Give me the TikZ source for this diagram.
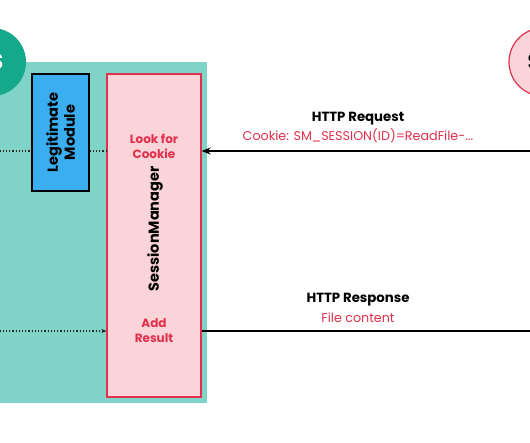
\documentclass[tikz,border=0pt]{standalone}
\usepackage{fontspec}
\setmainfont{Poppins}
\usetikzlibrary{arrows.meta}
\definecolor{hostteal}{HTML}{7FD3C7}
\definecolor{clientgreen}{HTML}{14A98A}
\definecolor{modblue}{HTML}{3BAEEF}
\definecolor{smpink}{HTML}{FAD4D9}
\definecolor{smred}{HTML}{E1304B}

\begin{document}
\begin{tikzpicture}[x=1pt, y=-1pt,
  host/.style={fill=hostteal, minimum width=212pt, minimum height=341pt, inner sep=0pt},
  peer/.style={circle, minimum size=68pt, inner sep=0pt},
  module/.style={draw=black, line width=1.2pt, fill=modblue, minimum width=57pt,
                 minimum height=117pt, inner sep=0pt},
  manager/.style={draw=smred, line width=1.2pt, fill=smpink, minimum width=94pt,
                  minimum height=323pt, inner sep=0pt},
  boxtext/.style={font=\fontsize{14.5}{17}\selectfont\bfseries, align=center},
  steptext/.style={font=\fontsize{12}{15}\selectfont\bfseries, text=smred, align=center},
  msg/.style={font=\fontsize{13.3}{15}\selectfont\bfseries},
  payload/.style={font=\fontsize{12.7}{14}\selectfont, text=smred},
  wire/.style={line width=1.6pt, black},
  call/.style={dotted, line width=1.2pt, black!85},
]
\useasboundingbox (0,0) rectangle (530,442);
\clip (0,0) rectangle (530,442);

\node[host] (host) at (101,232.5) {};
\node[peer, fill=clientgreen] (client) at (-8,62) {};
\node[font=\fontsize{22}{24}\selectfont\bfseries, text=white, anchor=east] at (7,62) {S};
\node[peer, fill=smpink, draw=smred, line width=1.2pt] (server) at (543,62) {};
\node[font=\fontsize{22}{24}\selectfont\bfseries, anchor=west] at (524,62) {S};

\node[module] (lm) at (60.5,132.5) {};
\node[boxtext, rotate=90] at (lm) {Legitimate\\Module};
\node[manager] (sm) at (154,235.5) {};
\node[boxtext, rotate=90] at (155,229) {SessionManager};
\node[steptext] (look) at (154,146) {Look for\\Cookie};
\node[steptext] (add) at (154,331) {Add\\Result};

\coordinate (reqin) at (545,151);
\coordinate (resout) at (545,331);
\coordinate (callin) at (-10,151);
\coordinate (callout) at (-10,331);

\draw[wire, -{Stealth[length=9pt, width=7pt]}] (reqin) -- (sm.east |- reqin);
\draw[wire] (sm.east |- resout) -- (resout);
\draw[call] (callin) -- (lm.west |- callin);
\draw[call] (lm.east |- callin) -- (sm.west |- callin);
\draw[call, -{Stealth[length=5pt, width=4pt]}] (callout) -- (sm.west |- callout);

\node[msg] (req) at (358,119) {HTTP Request};
\node[payload] (cookie) at (358,136) {Cookie: SM\_SESSION(ID)=ReadFile-...};
\node[msg] (res) at (358,300) {HTTP Response};
\node[payload] (file) at (358,318) {File content};

\end{tikzpicture}
\end{document}
